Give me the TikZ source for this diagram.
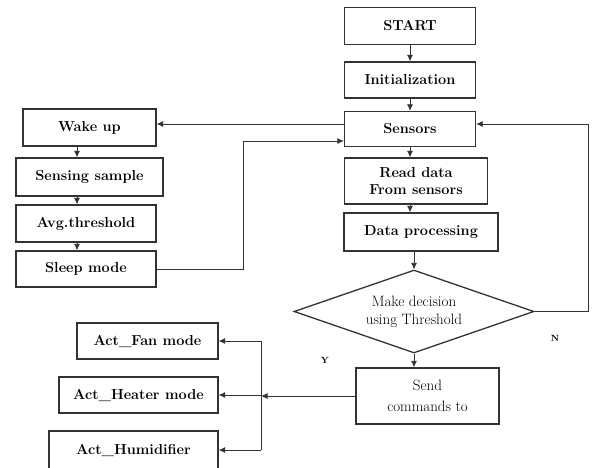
\documentclass[tikz,border=0pt]{standalone}
\usepackage{amssymb,amsmath}
\usepackage{tikz}
\usetikzlibrary{shapes.geometric,arrows.meta}

\begin{document}
\begin{tikzpicture}[x=1pt,y=-1pt]
\tikzstyle{box}=[rectangle,draw=black!80,line width=1.3pt,align=center,font=\fontsize{14.5}{17}\selectfont\bfseries]
\tikzstyle{box_reg}=[rectangle,draw=black!80,line width=1.3pt,align=center,font=\fontsize{15}{21}\selectfont]
\tikzstyle{decide}=[diamond,draw=black!80,line width=1.3pt,align=center,aspect=2.9,inner sep=0pt,font=\fontsize{15}{18}\selectfont]
\tikzstyle{arr}=[-{Latex[length=6.5pt,width=6pt]},draw=black!80,line width=0.8pt]
\tikzstyle{lbl}=[font=\fontsize{9}{10}\selectfont\bfseries]
\useasboundingbox (0,0) rectangle (592,468);
% main column
\node [box,minimum width=131pt,minimum height=37pt] (start) at (410,26) {START};
\node [box,minimum width=131pt,minimum height=36pt] (init) at (410,80) {Initialization};
\node [box,minimum width=131pt,minimum height=35pt] (sens) at (410,129) {Sensors};
\node [box,minimum width=143pt,minimum height=46pt] (read) at (416,181) {Read data\\From sensors};
\node [box,minimum width=154pt,minimum height=38pt] (proc) at (421,232) {Data processing};
\node [decide,minimum width=240pt,minimum height=83pt] (dec) at (414,311.5) {Make decision\\using Threshold};
\node [box_reg,minimum width=143pt,minimum height=56pt] (send) at (427.5,396) {Send\\commands to};
% sleep cycle
\node [box,minimum width=133pt,minimum height=37pt] (wake) at (89.5,127.5) {Wake up};
\node [box,minimum width=147pt,minimum height=38pt] (samp) at (89.5,177) {Sensing sample};
\node [box,minimum width=140pt,minimum height=37pt] (avg) at (86,223.5) {Avg.threshold};
\node [box,minimum width=140pt,minimum height=36pt] (sleep) at (86,269) {Sleep mode};
% actuators
\node [box,minimum width=141pt,minimum height=36pt] (fan) at (147.5,341) {Act\_Fan mode};
\node [box,minimum width=159pt,minimum height=36pt] (heat) at (138.5,395) {Act\_Heater mode};
\node [box,minimum width=169pt,minimum height=38pt] (humi) at (133.5,450) {Act\_Humidifier};
\node [lbl] (lblN) at (555,338) {N};
\node [lbl] (lblY) at (325,360) {Y};
\coordinate (lcol) at (77,0);
\coordinate (jn) at (261,0);
\coordinate (ret) at (588,124);
\coordinate (s1) at ([yshift=5pt]sens.west);
\coordinate (s2) at ([yshift=-12pt]sens.west);
% connectors
\draw [arr] (start.south) -- (init.north);
\draw [arr] (init.south) -- (sens.north);
\draw [arr] (sens.south) -- (read.north -| sens.south);
\draw [arr] (read.south -| sens.south) -- (proc.north -| sens.south);
\draw [arr] (proc.south -| dec.north) -- (dec.north);
\draw [arr] (dec.south) -- (dec.south |- send.north);
\draw [arr] (dec.east) -| (ret) -- (ret -| sens.east);
\draw [arr] (s1) -- (s1 -| wake.east);
\draw [arr] (sleep.east) -- ++(87,0) |- (s2);
\draw [arr] (wake.south -| lcol) -- (samp.north -| lcol);
\draw [arr] (samp.south -| lcol) -- (avg.north -| lcol);
\draw [arr] (avg.south -| lcol) -- (sleep.north -| lcol);
\draw [arr] (send.west) -- (send.west -| jn);
\draw [draw=black!80,line width=0.8pt] (jn |- fan.east) -- (jn |- humi.east);
\draw [arr] (jn |- fan.east) -- (fan.east);
\draw [arr] (jn |- heat.east) -- (heat.east);
\draw [arr] (jn |- humi.east) -- (humi.east);
\end{tikzpicture}
\end{document}
